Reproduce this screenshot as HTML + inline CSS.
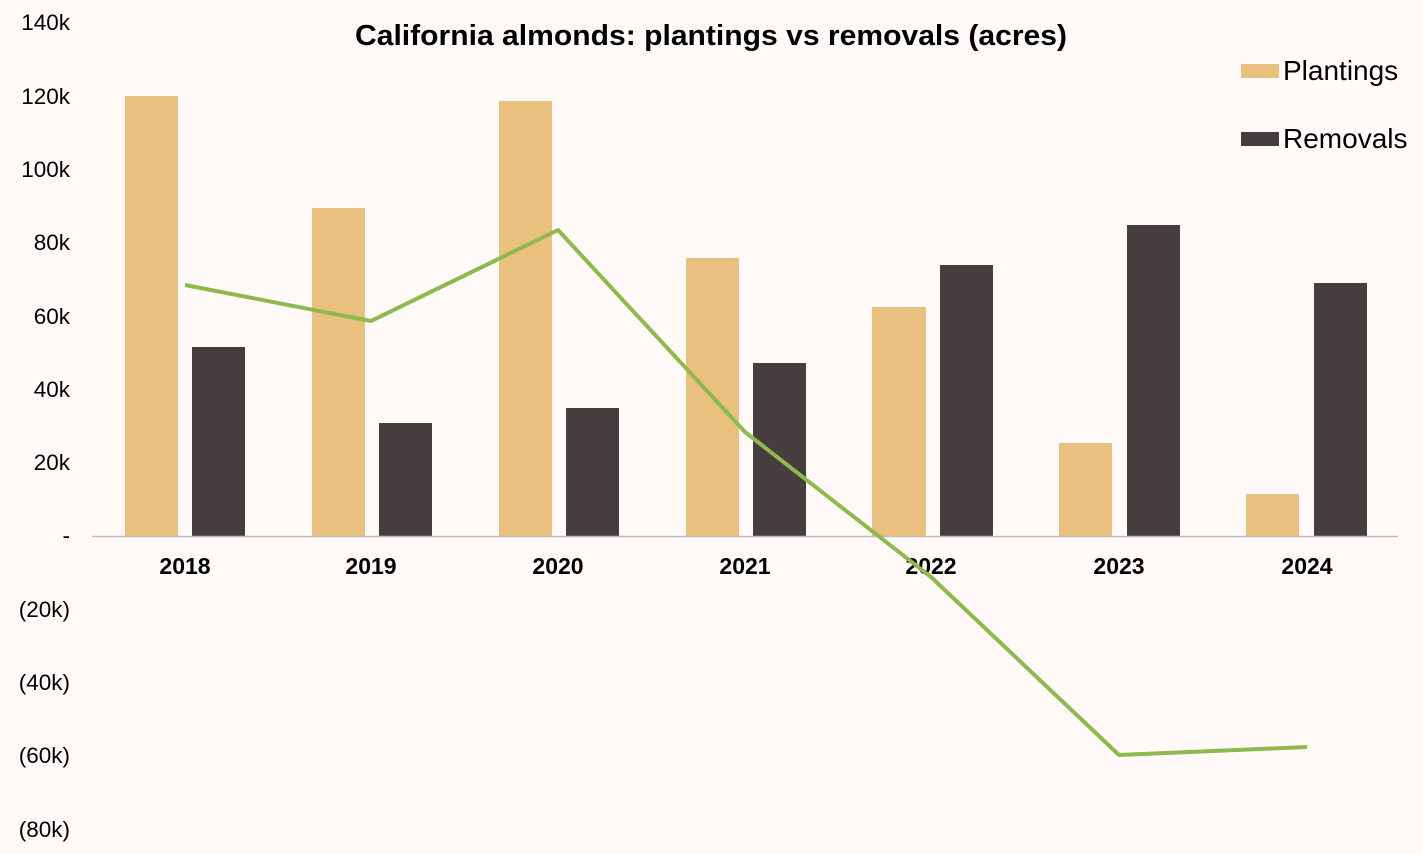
<!DOCTYPE html>
<html><head><meta charset="utf-8"><style>
html,body{margin:0;padding:0;background:#fffaf8;}
svg{display:block;font-family:"Liberation Sans",Arial,sans-serif;}
</style></head><body>
<svg width="1422" height="854" viewBox="0 0 1422 854">
<rect width="1422" height="854" fill="#fffaf8"/>
<text x="711" y="45" text-anchor="middle" font-size="29" font-weight="bold" fill="#000" textLength="712" lengthAdjust="spacingAndGlyphs">California almonds: plantings vs removals (acres)</text>
<g font-size="22.5" fill="#000" text-anchor="end">
<text x="70" y="30">140k</text>
<text x="70" y="104">120k</text>
<text x="70" y="177">100k</text>
<text x="70" y="250">80k</text>
<text x="70" y="324">60k</text>
<text x="70" y="397">40k</text>
<text x="70" y="470">20k</text>
<text x="70" y="543">-</text>
<text x="70" y="617">(20k)</text>
<text x="70" y="690">(40k)</text>
<text x="70" y="763">(60k)</text>
<text x="70" y="837">(80k)</text>
</g>
<g fill="#e9c07e">
<rect x="125" y="96" width="53" height="440"/>
<rect x="312" y="208" width="53" height="328"/>
<rect x="499" y="101" width="53" height="435"/>
<rect x="686" y="258" width="53" height="278"/>
<rect x="872" y="307" width="54" height="229"/>
<rect x="1059" y="443" width="53" height="93"/>
<rect x="1246" y="494" width="53" height="42"/>
</g>
<g fill="#463e3e">
<rect x="192" y="347" width="53" height="189"/>
<rect x="379" y="423" width="53" height="113"/>
<rect x="566" y="408" width="53" height="128"/>
<rect x="753" y="363" width="53" height="173"/>
<rect x="940" y="265" width="53" height="271"/>
<rect x="1127" y="225" width="53" height="311"/>
<rect x="1314" y="283" width="53" height="253"/>
</g>
<line x1="92" y1="536.5" x2="1398" y2="536.5" stroke="#bfbfbf" stroke-width="1.5"/>
<g font-size="23" font-weight="bold" fill="#000" text-anchor="middle">
<text x="185" y="574">2018</text>
<text x="371" y="574">2019</text>
<text x="558" y="574">2020</text>
<text x="745" y="574">2021</text>
<text x="931" y="574">2022</text>
<text x="1119" y="574">2023</text>
<text x="1307" y="574">2024</text>
</g>
<polyline points="185,285 371,321 558,230 745,432 931,577 1119,755 1307,747" fill="none" stroke="#8fb84f" stroke-width="4" stroke-linejoin="round"/>
<rect x="1241" y="64" width="38" height="14" fill="#e9c07e"/>
<text x="1283" y="80" font-size="28" fill="#000">Plantings</text>
<rect x="1241" y="132" width="38" height="14" fill="#463e3e"/>
<text x="1283" y="148" font-size="28" fill="#000">Removals</text>
</svg>
</body></html>
